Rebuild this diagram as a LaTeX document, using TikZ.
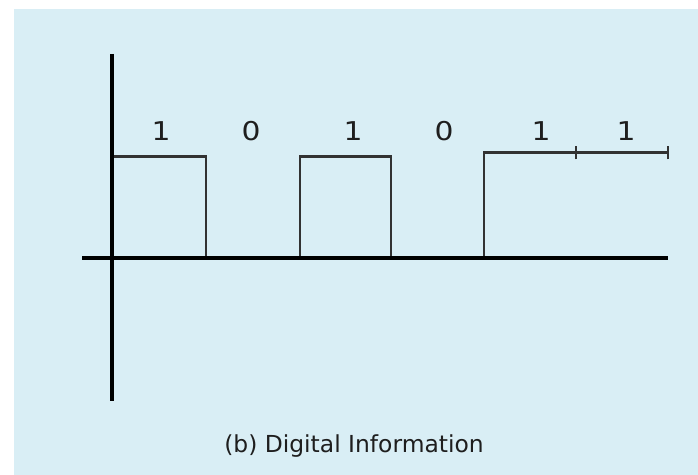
\documentclass[tikz,border=0pt]{standalone}
\usepackage{fontspec}
\setmainfont{DejaVu Sans}
\definecolor{bgblue}{RGB}{217,238,245}
\definecolor{sig}{RGB}{50,50,50}
\definecolor{txt}{RGB}{30,30,30}
\begin{document}
\begin{tikzpicture}[x=1bp,y=-1bp,
  axisline/.style={line width=3.2bp,black},
  sigline/.style={line width=2.3bp,sig},
  bitlabel/.style={font=\fontsize{26}{26}\selectfont,text=txt,inner sep=0pt,xscale=1.15},
  captionlabel/.style={font=\fontsize{23.5}{23.5}\selectfont,text=txt,inner sep=0pt}]
\useasboundingbox (0,0) rectangle (698,475);
\fill[bgblue] (14,9) rectangle (698,475);
% axes
\coordinate (vtop) at (112,54);
\coordinate (vbot) at (112,401);
\coordinate (hl) at (82,258);
\coordinate (hr) at (668,258);
% signal points
\coordinate (p0) at (112,156.5);
\coordinate (p1) at (206,156.5);
\coordinate (p2) at (206,258);
\coordinate (p3) at (300,258);
\coordinate (p4) at (300,156.5);
\coordinate (p5) at (391,156.5);
\coordinate (p6) at (391,258);
\coordinate (p7) at (484,258);
\coordinate (p8) at (484,152.5);
\coordinate (p9) at (576,152.5);
\coordinate (p10) at (668,152.5);
\draw[sigline] (p0) -- (p1) -- (p2) -- (p3) -- (p4) -- (p5) -- (p6) -- (p7) -- (p8) -- (p9) -- (p10);
\draw[sigline] ([yshift=-7]p9) -- ([yshift=7]p9);
\draw[sigline] ([yshift=-7]p10) -- ([yshift=7]p10);
\draw[axisline] (vtop) -- (vbot);
\draw[axisline] (hl) -- (hr);
% bit labels
\node[bitlabel] (b1) at (161,131) {1};
\node[bitlabel] (b2) at (251,131) {0};
\node[bitlabel] (b3) at (353,131) {1};
\node[bitlabel] (b4) at (444,131) {0};
\node[bitlabel] (b5) at (541,131) {1};
\node[bitlabel] (b6) at (626,131) {1};
% caption
\node[captionlabel] (cap) at (354,446) {(b) Digital Information};
\end{tikzpicture}
\end{document}
